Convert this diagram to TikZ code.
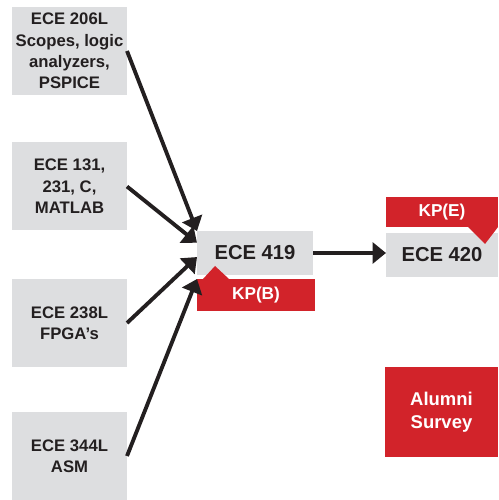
\documentclass[tikz,border=0pt]{standalone}
\usepackage{fontspec}
\setmainfont{Liberation Sans}
\usetikzlibrary{arrows.meta}

\definecolor{boxgray}{RGB}{221,222,224}
\definecolor{kpred}{RGB}{210,35,42}
\definecolor{inkgray}{RGB}{35,31,32}

\tikzset{
  course/.style={fill=boxgray, text=inkgray, minimum width=2.30cm, minimum height=1.76cm,
    align=center, font=\fontsize{9.5}{12.2}\selectfont\bfseries},
  target/.style={fill=boxgray, text=inkgray, minimum height=0.88cm,
    font=\fontsize{11.5}{13}\selectfont\bfseries},
  kp/.style={fill=kpred, text=white, font=\fontsize{9.8}{12}\selectfont\bfseries},
  link/.style={line width=2.2pt, inkgray, -{Triangle[length=0.27cm,width=0.42cm]}}
}

\begin{document}
\begin{tikzpicture}[every node/.style={inner sep=0pt, outer sep=0pt}]
\useasboundingbox (0,0) rectangle (9.96,10);

\node[course] (ece206) at (1.39,8.98) {ECE 206L\\Scopes, logic\\analyzers,\\PSPICE};
\node[course] (ece131) at (1.39,6.27) {ECE 131,\\231, C,\\MATLAB};
\node[course] (ece238) at (1.39,3.54) {ECE 238L\\FPGA's};
\node[course] (ece344) at (1.39,0.88) {ECE 344L\\ASM};

\node[target, minimum width=2.32cm] (ece419) at (5.10,4.94) {ECE 419};
\node[target, minimum width=2.24cm] (ece420) at (8.84,4.90) {ECE 420};

\node[kp, minimum width=2.36cm, minimum height=0.64cm] (kpb) at (5.12,4.10) {KP(B)};
\fill[kpred] (kpb.north west) ++(0.12,0) -- ++(0.24,0.26) -- ++(0.28,-0.26) -- cycle;
\node[kp, minimum width=2.24cm, minimum height=0.60cm] (kpe) at (8.84,5.76) {KP(E)};
\fill[kpred] (kpe.south east) -- ++(-0.60,0) -- ++(0.34,-0.34) -- cycle;

\node[kp, minimum width=2.26cm, minimum height=1.80cm, align=center,
  font=\fontsize{10.5}{13}\selectfont\bfseries] (alumni) at (8.83,1.76) {Alumni\\Survey};

\draw[link] (ece206.east) -- (ece419.north west);
\draw[link] (ece131.east) -- (ece419.170);
\draw[link] (ece238.east) -- (ece419.184);
\draw[link] (ece344.east) -- (kpb.north west);
\draw[link] (ece419.east) -- (ece419.east -| ece420.west);
\end{tikzpicture}
\end{document}
